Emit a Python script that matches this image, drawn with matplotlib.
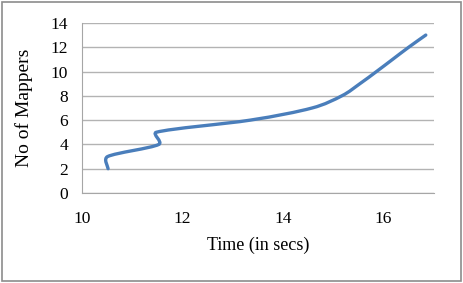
import matplotlib
matplotlib.use("Agg")
import matplotlib.pyplot as plt
from matplotlib.path import Path
from matplotlib.patches import PathPatch, Rectangle
import numpy as np

# data
time_secs = [10.52, 10.51, 11.53, 11.48, 13.35, 14.58, 15.17, 15.53, 15.86, 16.18, 16.5, 16.84]
mappers = [2, 3, 4, 5, 6, 7, 8, 9, 10, 11, 12, 13]
x_ticks = [10, 12, 14, 16]
y_ticks = [0, 2, 4, 6, 8, 10, 12, 14]

plt.rcParams['font.family'] = ['Liberation Serif', 'DejaVu Serif']

fig = plt.figure(figsize=(4.63, 2.83), dpi=100)
ax = fig.add_axes([0.177, 0.318, 0.760, 0.601])
ax.set_xlim(10, 17)
ax.set_ylim(0, 14)

# smoothed line like Excel: catmull-rom bezier in screen space,
# arms limited to a share of the chord so nothing overshoots
def smooth_path(xs, ys, t=1/6, cap=0.42):
    pts = ax.transData.transform(np.column_stack([xs, ys]))
    verts = [pts[0]]
    codes = [Path.MOVETO]
    n = len(pts)
    for i in range(n - 1):
        p0 = pts[i - 1] if i > 0 else pts[i]
        p1 = pts[i]
        p2 = pts[i + 1]
        p3 = pts[i + 2] if i + 2 < n else pts[i + 1]
        chord = np.hypot(*(p2 - p1))
        a = (p2 - p0) * t
        b = (p3 - p1) * t
        la, lb = np.hypot(*a), np.hypot(*b)
        if la > cap * chord:
            a = a * cap * chord / la
        if lb > cap * chord:
            b = b * cap * chord / lb
        verts += [p1 + a, p2 - b, p2]
        codes += [Path.CURVE4] * 3
    verts = ax.transData.inverted().transform(np.array(verts))
    return Path(verts, codes)

ax.add_patch(PathPatch(smooth_path(time_secs, mappers), facecolor='none',
                       edgecolor='#4a7ebb', lw=2.4, capstyle='round',
                       joinstyle='round', zorder=3))

ax.set_xticks(x_ticks)
ax.set_yticks(y_ticks)
ax.yaxis.grid(True, color='#b3b3b3', lw=1)
ax.set_axisbelow(True)
for s in ['top', 'right']:
    ax.spines[s].set_visible(False)
for s in ['left', 'bottom']:
    ax.spines[s].set_color('#a6a6a6')
ax.tick_params(length=0, labelsize=12.5)
ax.tick_params(axis='y', pad=10)
ax.tick_params(axis='x', pad=13)
ax.set_xlabel('Time (in secs)', fontsize=13)
ax.set_ylabel('No of Mappers', fontsize=14)
ax.xaxis.set_label_coords(0.5, -0.255)
ax.yaxis.set_label_coords(-0.139, 0.5)

# outer frame of the chart area
fig.patches.append(Rectangle((0.004, 0.008), 0.991, 0.985, transform=fig.transFigure,
                             facecolor='none', edgecolor='#8c8c8c', lw=1.2))

fig.savefig('out.png', dpi=100)
